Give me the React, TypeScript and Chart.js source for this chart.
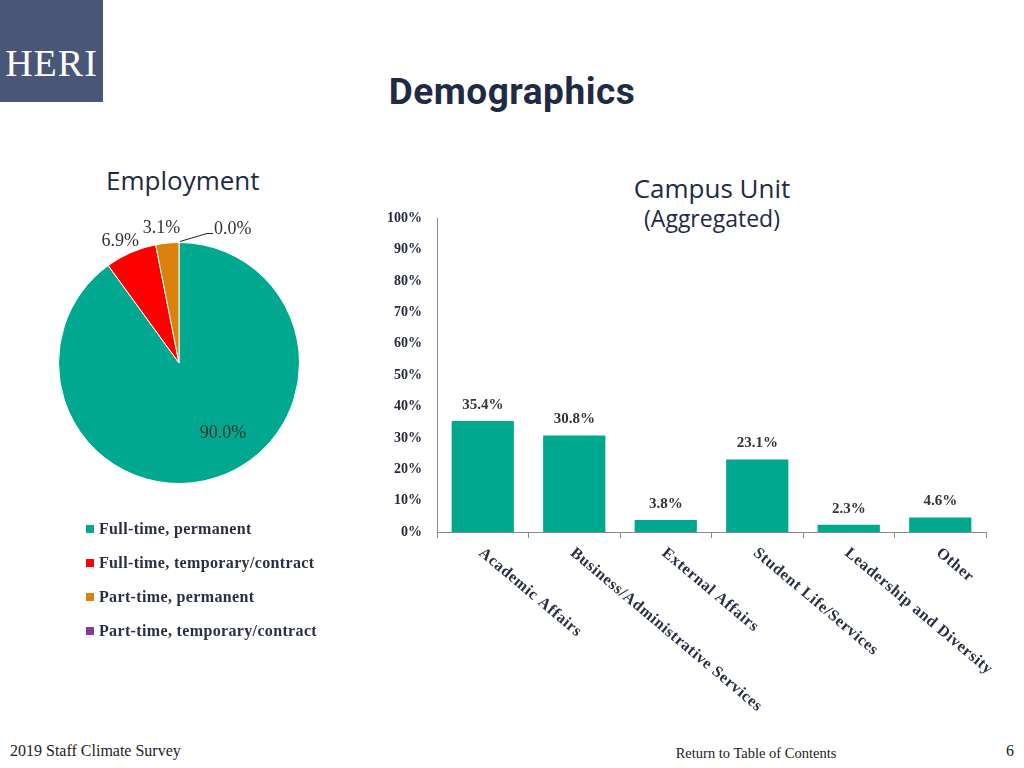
import React, { useEffect, useRef } from "react";
import { Chart, registerables } from "chart.js";

Chart.register(...registerables);

// ---------- data ----------
const employmentLabels = [
  "Full-time, permanent",
  "Full-time, temporary/contract",
  "Part-time, permanent",
  "Part-time, temporary/contract",
];
const employmentValues = [90.0, 6.9, 3.1, 0.0];
const employmentColors = ["#00A88F", "#FF0000", "#D9820C", "#7F3F98"];

const unitLabels = [
  "Academic Affairs",
  "Business/Administrative Services",
  "External Affairs",
  "Student Life/Services",
  "Leadership and Diversity",
  "Other",
];
const unitValues = [35.4, 30.8, 3.8, 23.1, 2.3, 4.6];
const barColor = "#00A88F";

const yMin = 0;
const yMax = 100;
const yStep = 10;

const NAVY = "#1F2A44";
const SERIF = "'Liberation Serif', 'DejaVu Serif', serif";
const SANS = "'Open Sans', 'Noto Sans', sans-serif";

// ---------- plugins ----------
const pieLabelPlugin = {
  id: "pieLabels",
  afterDatasetsDraw(chart: any) {
    const ctx = chart.ctx;
    const meta = chart.getDatasetMeta(0);
    ctx.save();
    ctx.font = `18px ${SERIF}`;
    ctx.fillStyle = "#333333";
    ctx.textBaseline = "middle";
    meta.data.forEach((arc: any, i: number) => {
      const p = arc.getProps(["x", "y", "startAngle", "endAngle", "outerRadius"], true);
      const mid = (p.startAngle + p.endAngle) / 2;
      const text = employmentValues[i].toFixed(1) + "%";
      const span = p.endAngle - p.startAngle;
      if (span > Math.PI) {
        const a = mid - 0.245;
        const r = p.outerRadius * 0.69;
        ctx.textAlign = "center";
        ctx.fillText(text, p.x + Math.cos(a) * r, p.y + Math.sin(a) * r);
      } else if (span < 0.01) {
        const sx = p.x + Math.cos(mid) * p.outerRadius;
        const sy = p.y + Math.sin(mid) * p.outerRadius;
        ctx.strokeStyle = "#222";
        ctx.lineWidth = 1;
        ctx.beginPath();
        ctx.moveTo(sx + 1, sy - 1);
        ctx.lineTo(sx + 28, sy - 9);
        ctx.lineTo(sx + 34, sy - 9);
        ctx.stroke();
        ctx.textAlign = "left";
        ctx.fillText(text, sx + 35, sy - 13);
      } else {
        const a = mid - 0.03;
        const r = p.outerRadius * 1.14;
        ctx.textAlign = "center";
        ctx.fillText(text, p.x + Math.cos(a) * r, p.y + Math.sin(a) * r + 2);
      }
    });
    ctx.restore();
  },
};

const barLabelPlugin = {
  id: "barLabels",
  afterDatasetsDraw(chart: any) {
    const ctx = chart.ctx;
    const meta = chart.getDatasetMeta(0);
    ctx.save();
    ctx.font = `bold 15px ${SERIF}`;
    ctx.fillStyle = "#333333";
    ctx.textAlign = "center";
    ctx.textBaseline = "middle";
    meta.data.forEach((bar: any, i: number) => {
      ctx.fillText(unitValues[i].toFixed(1) + "%", bar.x, bar.y - 16);
    });
    ctx.restore();
  },
};

const xLabelPlugin = {
  id: "xLabels",
  afterDraw(chart: any) {
    const ctx = chart.ctx;
    const xs = chart.scales.x;
    ctx.save();
    ctx.font = `bold 16px ${SERIF}`;
    (ctx as any).letterSpacing = "0.6px";
    ctx.fillStyle = "#2A2F45";
    ctx.textAlign = "left";
    ctx.textBaseline = "middle";
    unitLabels.forEach((label, i) => {
      const px = xs.getPixelForValue(i);
      ctx.save();
      ctx.translate(px - 2, xs.top + 19);
      ctx.rotate((40 * Math.PI) / 180);
      ctx.fillText(label, 0, 0);
      ctx.restore();
    });
    ctx.restore();
  },
};

function PieChart() {
  const ref = useRef<HTMLCanvasElement>(null);
  useEffect(() => {
    const chart = new Chart(ref.current as HTMLCanvasElement, {
      type: "pie",
      data: {
        labels: employmentLabels,
        datasets: [
          {
            data: employmentValues,
            backgroundColor: employmentColors,
            borderColor: "#ffffff",
            borderWidth: 1,
          },
        ],
      },
      options: {
        responsive: false,
        animation: false,
        layout: { padding: { left: 58, right: 60, top: 62, bottom: 62 } },
        plugins: { legend: { display: false }, tooltip: { enabled: false } },
      },
      plugins: [pieLabelPlugin],
    } as any);
    return () => chart.destroy();
  }, []);
  return (
    <canvas
      ref={ref}
      width={360}
      height={366}
      style={{ position: "absolute", left: 0, top: 180 }}
    />
  );
}

function BarChart() {
  const ref = useRef<HTMLCanvasElement>(null);
  useEffect(() => {
    const chart = new Chart(ref.current as HTMLCanvasElement, {
      type: "bar",
      data: {
        labels: unitLabels,
        datasets: [
          {
            data: unitValues,
            backgroundColor: barColor,
            borderWidth: 0,
            barPercentage: 0.68,
            categoryPercentage: 1,
          },
        ],
      },
      options: {
        responsive: false,
        animation: false,
        layout: { padding: { left: 0, right: 24, top: 23, bottom: 0 } },
        plugins: { legend: { display: false }, tooltip: { enabled: false } },
        scales: {
          x: {
            ticks: { display: false },
            grid: {
              offset: true,
              drawOnChartArea: false,
              drawTicks: true,
              tickLength: 6,
              color: "#8C8C8C",
            },
            border: { display: true, color: "#8C8C8C", width: 1 },
            afterFit: (s: any) => {
              s.height = 193;
            },
          },
          y: {
            min: yMin,
            max: yMax,
            ticks: {
              stepSize: yStep,
              padding: 15,
              color: "#262B3F",
              font: { family: SERIF, size: 14, weight: "bold" },
              callback: (v: any) => v + "%",
            },
            grid: { display: false, drawTicks: false },
            border: { display: true, color: "#8C8C8C", width: 1 },
            afterFit: (s: any) => {
              s.width = 77;
            },
          },
        },
      },
      plugins: [barLabelPlugin, xLabelPlugin],
    } as any);
    return () => chart.destroy();
  }, []);
  return (
    <canvas
      ref={ref}
      width={650}
      height={530}
      style={{ position: "absolute", left: 360, top: 195 }}
    />
  );
}

export default function App() {
  return (
    <div
      style={{
        position: "absolute",
        left: 0,
        top: 0,
        width: 1024,
        height: 768,
        background: "#ffffff",
        overflow: "hidden",
      }}
    >
      {/* logo */}
      <div
        style={{
          position: "absolute",
          left: 0,
          top: 0,
          width: 103,
          height: 102,
          background: "#4A5677",
        }}
      >
        <div
          style={{
            position: "absolute",
            left: 0,
            width: 103,
            top: 41,
            textAlign: "center",
            color: "#ffffff",
            fontFamily: SERIF,
            fontSize: 38,
            lineHeight: "44px",
            letterSpacing: 1,
          }}
        >
          HERI
        </div>
      </div>

      {/* title */}
      <div
        style={{
          position: "absolute",
          left: 0,
          width: 1024,
          top: 68,
          textAlign: "center",
          color: NAVY,
          fontFamily: "Roboto, 'Open Sans', sans-serif",
          fontWeight: "bold",
          fontSize: 37,
          letterSpacing: 0.5,
          lineHeight: "48px",
        }}
      >
        Demographics
      </div>

      <div
        style={{
          position: "absolute",
          left: 106,
          top: 163,
          color: NAVY,
          fontFamily: SANS,
          fontSize: 26,
          lineHeight: "34px",
        }}
      >
        Employment
      </div>

      <div
        style={{
          position: "absolute",
          left: 562,
          width: 300,
          top: 173,
          textAlign: "center",
          color: NAVY,
          fontFamily: SANS,
          lineHeight: "30px",
        }}
      >
        <div style={{ fontSize: 26 }}>Campus Unit</div>
        <div style={{ fontSize: 23 }}>(Aggregated)</div>
      </div>

      <PieChart />
      <BarChart />

      {/* pie legend */}
      <div style={{ position: "absolute", left: 86, top: 517 }}>
        {employmentLabels.map((label, i) => (
          <div
            key={label}
            style={{
              display: "flex",
              alignItems: "center",
              height: 34,
              fontFamily: SERIF,
              fontWeight: "bold",
              fontSize: 16,
              letterSpacing: 0.35,
              color: "#2A2F45",
              marginTop: i === 0 ? -5 : 0,
            }}
          >
            <span
              style={{
                display: "inline-block",
                width: 8,
                height: 8,
                background: employmentColors[i],
                marginRight: 5,
              }}
            />
            {label}
          </div>
        ))}
      </div>

      {/* footer */}
      <div
        style={{
          position: "absolute",
          left: 10,
          top: 742,
          fontFamily: SERIF,
          fontSize: 16,
          color: "#222",
        }}
      >
        2019 Staff Climate Survey
      </div>
      <div
        style={{
          position: "absolute",
          left: 606,
          width: 300,
          textAlign: "center",
          top: 745,
          fontFamily: SERIF,
          fontSize: 14.5,
          color: "#222",
        }}
      >
        Return to Table of Contents
      </div>
      <div
        style={{
          position: "absolute",
          left: 1006,
          top: 742,
          fontFamily: SERIF,
          fontSize: 16,
          color: "#222",
        }}
      >
        6
      </div>
    </div>
  );
}
